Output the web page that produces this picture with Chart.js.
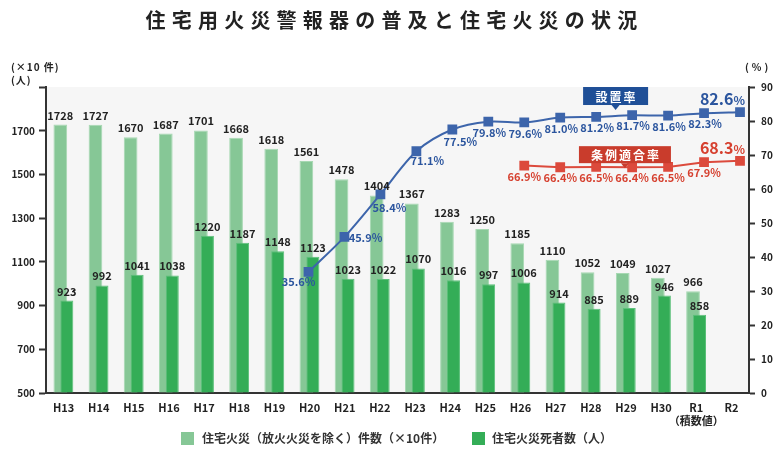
<!DOCTYPE html>
<html>
<head>
<meta charset="utf-8">
<script src="https://cdn.jsdelivr.net/npm/chart.js@4"></script>
<style>
  body { margin: 0; background: #fff; }
  #wrap { position: relative; width: 783px; height: 456px; font-family: 'Noto Sans CJK JP', 'Noto Sans', sans-serif; color: #222; }
  #chart { position: absolute; left: 0; top: 0; }
  #title { position: absolute; left: 0; top: 8px; width: 789px; text-align: center; font-size: 20px; line-height: 24px; font-weight: bold; letter-spacing: 6.2px; color: #222; }
  .unit { position: absolute; font-size: 10px; line-height: 13px; font-weight: bold; letter-spacing: 1px; color: #222; }
  .lg-box { position: absolute; top: 432px; width: 13px; height: 13px; }
  .lg-text { position: absolute; top: 429px; font-size: 12px; line-height: 17px; font-weight: bold; color: #333; }
</style>
</head>
<body>
<div id="wrap">
  <canvas id="chart" width="783" height="456"></canvas>
  <div id="title">住宅用火災警報器の普及と住宅火災の状況</div>
  <div class="unit" style="left:11px;top:60px">(×10 件)<br>(人)</div>
  <div class="unit" style="left:745px;top:60px;letter-spacing:3px">(%)</div>
  <div class="lg-box" style="left:181px;background:#86c796"></div>
  <div class="lg-text" style="left:202px">住宅火災（放火火災を除く）件数（×10件）</div>
  <div class="lg-box" style="left:472px;background:#34ad57"></div>
  <div class="lg-text" style="left:492px">住宅火災死者数（人）</div>
</div>
<script>
// data
const categories = ['H13','H14','H15','H16','H17','H18','H19','H20','H21','H22','H23','H24','H25','H26','H27','H28','H29','H30','R1','R2'];
const fireCounts = [1728,1727,1670,1687,1701,1668,1618,1561,1478,1404,1367,1283,1250,1185,1110,1052,1049,1027,966,null];
const deaths = [923,992,1041,1038,1220,1187,1148,1123,1023,1022,1070,1016,997,1006,914,885,889,946,858,null];
const installRate = [null,null,null,null,null,null,null,35.6,45.9,58.4,71.1,77.5,79.8,79.6,81.0,81.2,81.7,81.6,82.3,82.6];
const complianceRate = [null,null,null,null,null,null,null,null,null,null,null,null,null,66.9,66.4,66.5,66.4,66.5,67.9,68.3];
const leftTicks = [500,700,900,1100,1300,1500,1700,1900];
const rightTicks = [0,10,20,30,40,50,60,70,80,90];

const FONT = "'Noto Sans CJK JP','Noto Sans',sans-serif";
const BLUE = '#3d65ab', BLUE_TXT = '#2b559e';
const RED = '#dc4a3c', RED_TXT = '#d6402f';

function toPoints(arr) {
  return arr.map((v, i) => v === null ? null : {x: i, y: v}).filter(p => p);
}

// label offsets for the blue line (by category index)
const blueOffsets = {7: [-10, 10], 8: [21, 1], 9: [9, 13], 10: [11, 10], 11: [8, 12]};

const bgPlugin = {
  id: 'bg',
  beforeDraw(chart) {
    const a = chart.chartArea, ctx = chart.ctx;
    ctx.save();
    ctx.fillStyle = '#f6f6f6';
    ctx.fillRect(a.left, a.top, a.right - a.left, a.bottom - a.top);
    ctx.restore();
  }
};

// light bars a bit left, dark bars a bit right (they overlap)
const barShift = {
  id: 'barShift',
  afterDatasetUpdate(chart, args) {
    if (args.index > 1) return;
    const x = chart.scales.x;
    const step = x.getPixelForValue(1) - x.getPixelForValue(0);
    const d = (args.index === 0 ? -1 : 1) * step * 0.0925;
    args.meta.data.forEach(el => { el.x += d; });
  }
};

function bigLabel(ctx, p, v, color) {
  const right = p.x + 5, base = p.y - 7;
  ctx.fillStyle = color;
  ctx.textBaseline = 'alphabetic';
  ctx.textAlign = 'right';
  ctx.font = 'bold 12px ' + FONT;
  ctx.fillText('%', right, base);
  const w = ctx.measureText('%').width;
  ctx.font = 'bold 16px ' + FONT;
  ctx.fillText(v.toFixed(1), right - w, base);
}

function callout(ctx, text, cx, cy, w, h, color) {
  ctx.fillStyle = color;
  ctx.fillRect(cx - w / 2, cy - h / 2, w, h);
  ctx.beginPath();
  ctx.moveTo(cx - 4, cy + h / 2);
  ctx.lineTo(cx + 4, cy + h / 2);
  ctx.lineTo(cx, cy + h / 2 + 5);
  ctx.closePath();
  ctx.fill();
  ctx.fillStyle = '#fff';
  ctx.font = 'bold 12px ' + FONT;
  ctx.textAlign = 'center';
  ctx.textBaseline = 'middle';
  ctx.letterSpacing = '2px';
  ctx.fillText(text, cx + 1, cy + 1);
  ctx.letterSpacing = '0px';
}

const labelPlugin = {
  id: 'labels',
  afterDatasetsDraw(chart) {
    const ctx = chart.ctx;
    ctx.save();
    // bar values
    ctx.font = 'bold 11px ' + FONT;
    ctx.fillStyle = '#222';
    ctx.textAlign = 'center';
    ctx.textBaseline = 'alphabetic';
    [0, 1].forEach(di => {
      const vals = chart.data.datasets[di].data;
      chart.getDatasetMeta(di).data.forEach((bar, i) => {
        if (vals[i] == null) return;
        ctx.fillText(vals[i], bar.x, bar.y - 5);
      });
    });
    // percent values
    [[2, BLUE_TXT, blueOffsets, [1, 11]], [3, RED_TXT, {}, [0, 11]]].forEach(([di, color, offs, def]) => {
      const pts = chart.data.datasets[di].data;
      const meta = chart.getDatasetMeta(di);
      meta.data.forEach((el, j) => {
        const idx = pts[j].x, v = pts[j].y;
        if (j === pts.length - 1) { bigLabel(ctx, el, v, color); return; }
        const o = offs[idx] || def;
        ctx.font = 'bold 11px ' + FONT;
        ctx.fillStyle = color;
        ctx.textAlign = 'center';
        ctx.textBaseline = 'middle';
        ctx.fillText(v.toFixed(1) + '%', el.x + o[0], el.y + o[1]);
      });
    });
    // series callouts
    const xl = chart.scales.xl, yr = chart.scales.yr;
    callout(ctx, '設置率', xl.getPixelForValue(15.54), yr.getPixelForValue(87.35), 65, 18, '#1f4f97');
    callout(ctx, '条例適合率', xl.getPixelForValue(15.8), yr.getPixelForValue(70.1), 92, 17, '#c93c2c');
    ctx.restore();
  }
};

const ctx = document.getElementById('chart').getContext('2d');
const chart = new Chart(ctx, {
  type: 'bar',
  data: {
    labels: categories,
    datasets: [{
      label: '住宅火災（放火火災を除く）件数（×10件）',
      data: fireCounts,
      backgroundColor: '#86c796',
      borderColor: '#a6d8b2',
      borderWidth: 1,
      borderSkipped: 'bottom',
      base: leftTicks[0],
      grouped: false,
      categoryPercentage: 1,
      barPercentage: 0.39,
      xAxisID: 'x',
      yAxisID: 'y',
      order: 3
    }, {
      label: '住宅火災死者数（人）',
      data: deaths,
      backgroundColor: '#34ad57',
      borderColor: '#5cc07a',
      borderWidth: 1,
      borderSkipped: 'bottom',
      base: leftTicks[0],
      grouped: false,
      categoryPercentage: 1,
      barPercentage: 0.37,
      xAxisID: 'x',
      yAxisID: 'y',
      order: 2
    }, {
      type: 'line',
      label: '設置率',
      data: toPoints(installRate),
      xAxisID: 'xl',
      yAxisID: 'yr',
      borderColor: BLUE,
      backgroundColor: BLUE,
      borderWidth: 2,
      tension: 0.3,
      pointStyle: 'rect',
      pointRadius: 5.5,
      order: 0
    }, {
      type: 'line',
      label: '条例適合率',
      data: toPoints(complianceRate),
      xAxisID: 'xl',
      yAxisID: 'yr',
      borderColor: RED,
      backgroundColor: RED,
      borderWidth: 2,
      tension: 0,
      pointStyle: 'rect',
      pointRadius: 5.5,
      order: 1
    }]
  },
  options: {
    responsive: false,
    animation: false,
    layout: { padding: { top: 87, bottom: 23, left: 0, right: 0 } },
    plugins: {
      legend: { display: false },
      tooltip: { enabled: false }
    },
    scales: {
      x: {
        type: 'category',
        offset: true,
        grid: { display: false, drawTicks: false },
        border: { display: true, color: '#333', width: 2 },
        ticks: {
          color: '#222',
          padding: 8,
          maxRotation: 0,
          minRotation: 0,
          autoSkip: false,
          font: { size: 11, weight: 'bold', family: FONT },
          callback: function(v, i) {
            const l = categories[i];
            return l === 'R1' ? [l, '（積数値）'] : l;
          }
        },
        afterFit: s => { s.height = 40; }
      },
      xl: {
        type: 'linear',
        display: false,
        offset: false,
        min: -0.30,
        max: 19.25
      },
      y: {
        position: 'left',
        min: leftTicks[0],
        max: leftTicks[leftTicks.length - 1],
        afterBuildTicks: s => { s.ticks = leftTicks.map(v => ({value: v})); },
        grid: { drawOnChartArea: false, drawTicks: true, tickLength: 7, color: '#333', tickWidth: 2 },
        border: { display: true, color: '#333', width: 2 },
        ticks: {
          color: '#222',
          padding: 4,
          font: { size: 10, weight: 'bold', family: FONT },
          callback: v => v === 1900 ? '' : v
        },
        afterFit: s => { s.width = 46; }
      },
      yr: {
        position: 'right',
        min: rightTicks[0],
        max: rightTicks[rightTicks.length - 1],
        afterBuildTicks: s => { s.ticks = rightTicks.map(v => ({value: v})); },
        grid: { drawOnChartArea: false, drawTicks: true, tickLength: 6, color: '#333', tickWidth: 2 },
        border: { display: true, color: '#333', width: 2 },
        ticks: {
          color: '#222',
          padding: 6,
          font: { size: 10, weight: 'bold', family: FONT }
        },
        afterFit: s => { s.width = 34; }
      }
    }
  },
  plugins: [bgPlugin, barShift, labelPlugin]
});
</script>
</body>
</html>
